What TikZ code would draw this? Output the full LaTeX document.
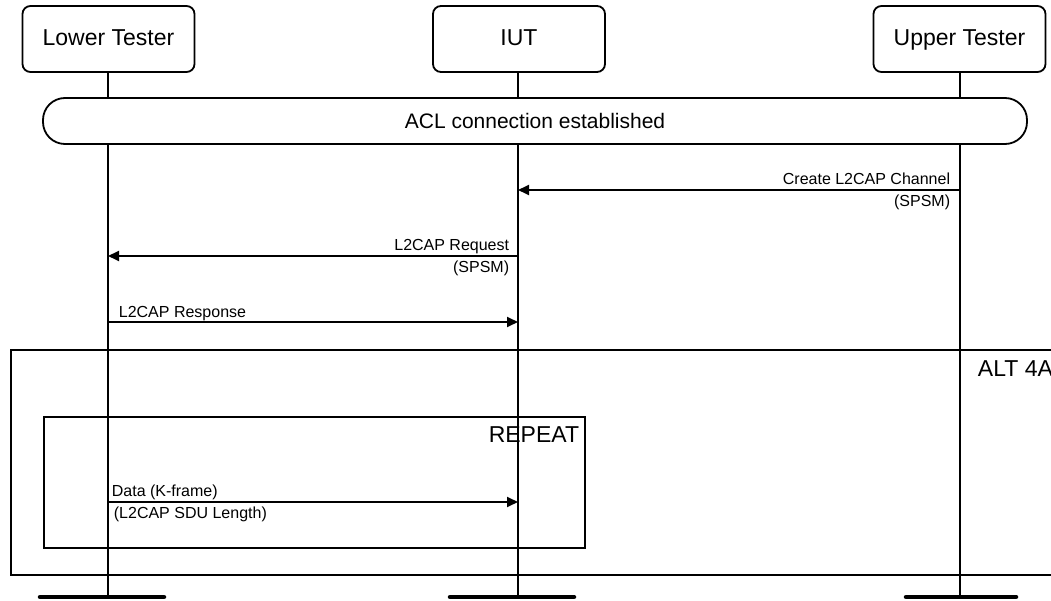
\documentclass[tikz,border=0pt]{standalone}
\usepackage{fontspec}
\setmainfont{Liberation Sans}
\usetikzlibrary{arrows.meta}
\begin{document}
\begin{tikzpicture}[x=1pt,y=-1pt,
  line width=1.8pt,
  actor/.style={draw,rounded corners=8pt,minimum width=172pt,minimum height=66pt,font=\fontsize{23}{25}\selectfont,inner sep=0pt,text height=17pt,text depth=4pt},
  big/.style={font=\fontsize{21}{23}\selectfont,inner sep=0pt},
  frm/.style={font=\fontsize{23}{25}\selectfont,inner sep=0pt},
  lbl/.style={font=\fontsize{16}{18}\selectfont,inner sep=0pt},
  msg/.style={-{Triangle[length=11pt,width=10pt]}},
  bar/.style={line width=4.5pt,line cap=round}]
\useasboundingbox (0,0) rectangle (1051,601);
\begin{scope}
\clip (0,0) rectangle (1051,601);
% frames
\node[draw,rectangle,minimum width=1060pt,minimum height=225pt,anchor=north west,inner sep=0pt] (alt) at (10,349) {};
\node[frm,anchor=base west] (altl) at (977,376) {ALT 4A};
\node[draw,rectangle,minimum width=541pt,minimum height=131pt,anchor=north west,inner sep=0pt] (rep) at (43,416) {};
\node[frm,anchor=base east] (repl) at (580,442) {REPEAT};
% actors
\node[actor] (lt) at (108.5,39) {Lower Tester};
\node[actor] (iut) at (519,39) {IUT};
\node[actor] (ut) at (959.5,39) {Upper Tester};
% end coordinates
\coordinate (lte) at (108,597);
\coordinate (iute) at (518,597);
\coordinate (ute) at (960,597);
\draw (lt.south -| lte) -- (lte);
\draw (iut.south -| iute) -- (iute);
\draw (ut.south -| ute) -- (ute);
\draw[bar] (40,597) -- (164,597);
\draw[bar] (450,597) -- (574,597);
\draw[bar] (906,597) -- (1016,597);
% ACL
\node[draw,fill=white,rounded corners=22pt,minimum width=984pt,minimum height=46pt,inner sep=0pt,big] (acl) at (535,121) {ACL connection established};
% messages
\coordinate (m1s) at (960,190); \coordinate (m1e) at (518,190);
\draw[msg] (m1s) -- (m1e);
\node[lbl,anchor=base east] (l1a) at (951,185) {Create L2CAP Channel};
\node[lbl,anchor=north east] (l1b) at (951,194) {(SPSM)};
\coordinate (m2s) at (518,256); \coordinate (m2e) at (108,256);
\draw[msg] (m2s) -- (m2e);
\node[lbl,anchor=base east] (l2a) at (510,251) {L2CAP Request};
\node[lbl,anchor=north east] (l2b) at (510,260) {(SPSM)};
\coordinate (m3s) at (108,322); \coordinate (m3e) at (518,322);
\draw[msg] (m3s) -- (m3e);
\node[lbl,anchor=base west] (l3a) at (118,317) {L2CAP Response};
\coordinate (m4s) at (108,502); \coordinate (m4e) at (518,502);
\draw[msg] (m4s) -- (m4e);
\node[lbl,anchor=base west] (l4a) at (111,496) {Data (K-frame)};
\node[lbl,anchor=north west] (l4b) at (113,506) {(L2CAP SDU Length)};
\end{scope}
\end{tikzpicture}
\end{document}
